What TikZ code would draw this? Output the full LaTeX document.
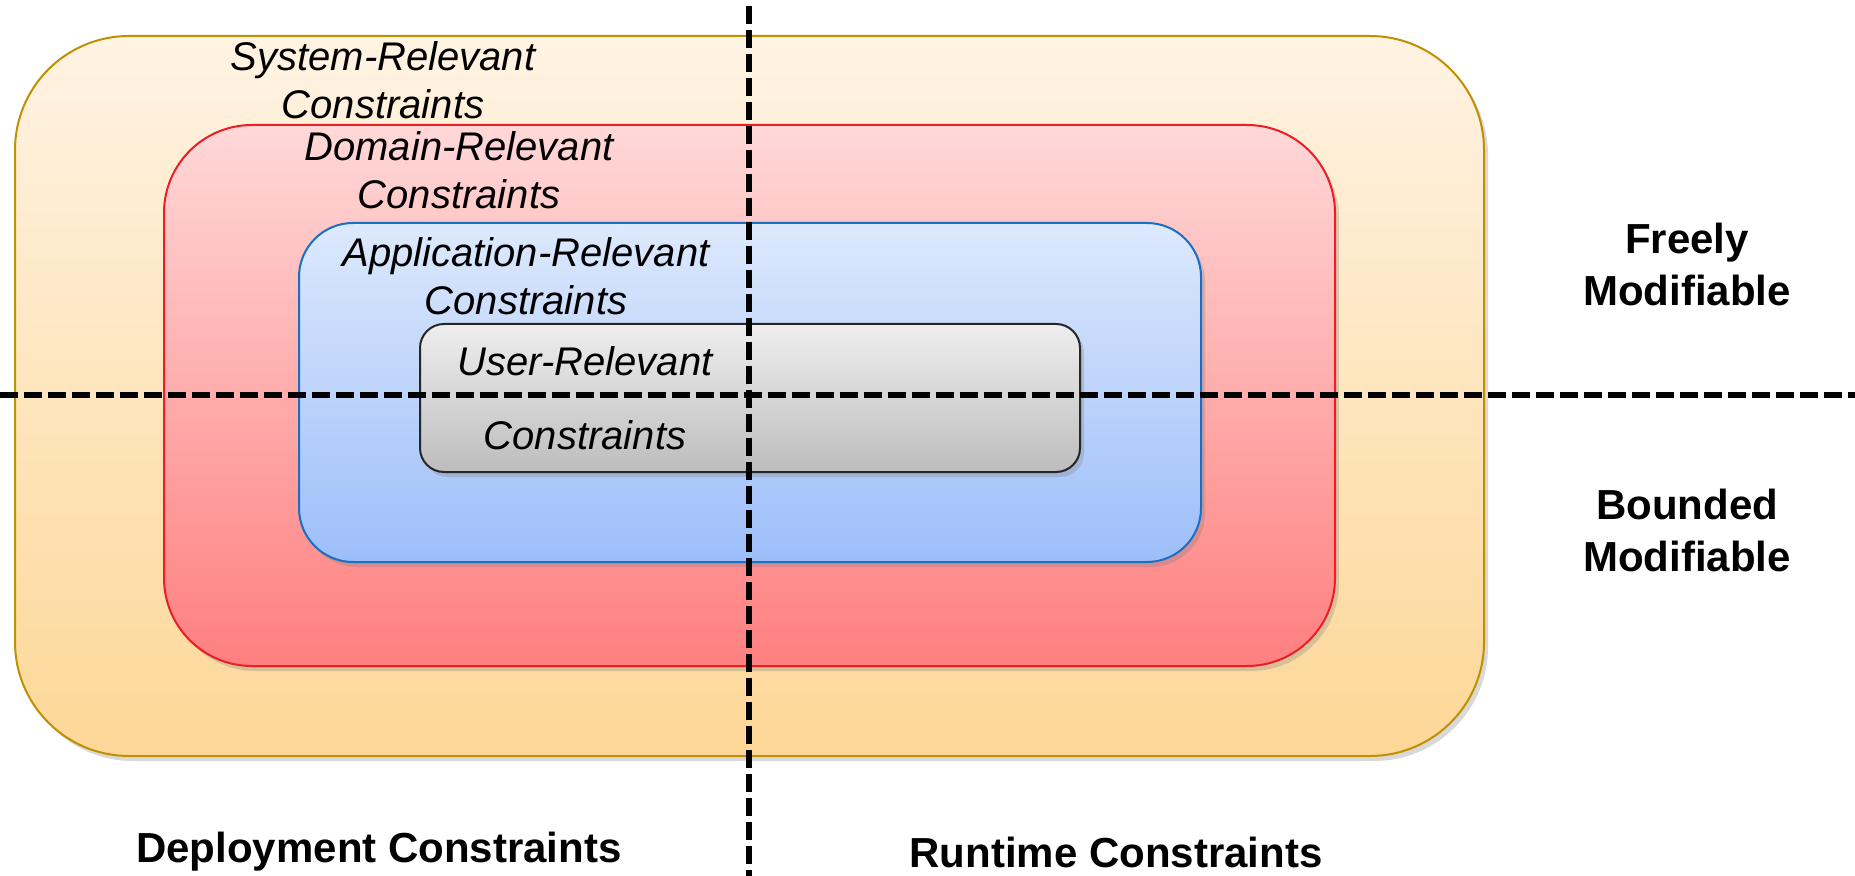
\documentclass[tikz,border=0pt]{standalone}
\usepackage{fontspec}
\setmainfont{Liberation Sans}
\usetikzlibrary{shadows}
\definecolor{sys_top}{HTML}{FFF3E3}
\definecolor{sys_bot}{HTML}{FDD797}
\definecolor{sys_line}{HTML}{BF9000}
\definecolor{dom_top}{HTML}{FFD8D8}
\definecolor{dom_bot}{HTML}{FF7F7F}
\definecolor{dom_line}{HTML}{EE1C25}
\definecolor{app_top}{HTML}{DDE9FD}
\definecolor{app_bot}{HTML}{9CBEF9}
\definecolor{app_line}{HTML}{1A6FC4}
\definecolor{usr_top}{HTML}{EEEEEE}
\definecolor{usr_bot}{HTML}{BDBDBD}
\begin{document}
\begin{tikzpicture}[x=0.5pt, y=-0.5pt, box_style/.style={rectangle,anchor=north west,inner sep=0pt,line width=1pt,drop shadow={opacity=0.3,shadow xshift=2pt,shadow yshift=-2.5pt}},label_style/.style={align=center,font=\fontsize{20}{24}\selectfont\itshape,inner sep=0pt},side_style/.style={align=center,font=\fontsize{21}{26}\selectfont\bfseries,inner sep=0pt},split_style/.style={line width=2.8pt,dash pattern=on 9pt off 3pt}]
      \useasboundingbox (0,0) rectangle (1855,876);
      \node[box_style,draw=sys_line,top color=sys_top,bottom color=sys_bot,rounded corners=57pt,minimum width=734.5pt,minimum height=360pt] (sys) at (14,35) {};
      \node[box_style,draw=dom_line,top color=dom_top,bottom color=dom_bot,rounded corners=44pt,minimum width=585.5pt,minimum height=270.5pt] (dom) at (163,124) {};
      \node[box_style,draw=app_line,top color=app_top,bottom color=app_bot,rounded corners=27pt,minimum width=451pt,minimum height=169.5pt] (app) at (298,222) {};
      \node[box_style,draw=black!85,top color=usr_top,bottom color=usr_bot,rounded corners=12pt,minimum width=330pt,minimum height=74pt] (usr) at (419,323) {};
      \draw
        (383, 80) node[label_style] (sys_text){System-Relevant\\Constraints}
        (459,170) node[label_style] (dom_text){Domain-Relevant\\Constraints}
        (526,276) node[label_style] (app_text){Application-Relevant\\Constraints}
        (585,398) node[label_style] (usr_text){User-Relevant\\[13pt]Constraints}
        (1687,264) node[side_style] (free_text){Freely\\Modifiable}
        (1687,530) node[side_style] (bound_text){Bounded\\Modifiable}
        (379,852) node[side_style] (deploy_text){Deployment Constraints}
        (1116,852) node[side_style] (run_text){Runtime Constraints};
      \coordinate (split_top) at (749,6);
      \coordinate (split_bot) at (749,876);
      \coordinate (split_left) at (0,395);
      \coordinate (split_right) at (1855,395);
      \draw[split_style] (split_top) to (split_bot);
      \draw[split_style] (split_left) to (split_right);
    \end{tikzpicture}
\end{document}
